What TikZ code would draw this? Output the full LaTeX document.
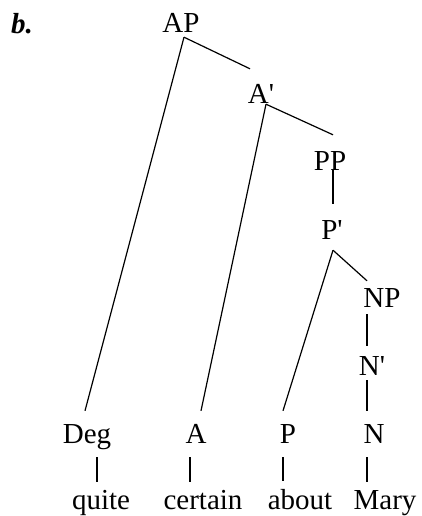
\documentclass[tikz,border=0pt]{standalone}
\usepackage{fontspec}
\setmainfont{Liberation Serif}
\usetikzlibrary{positioning}
\begin{document}
\begin{tikzpicture}[x=1pt,y=-1pt]
\tikzstyle{every node}+=[inner sep=0pt,font=\fontsize{29}{33}\selectfont]
\tikzstyle{cat}=[anchor=base,text height=19pt,text depth=0pt]
\tikzstyle{branch}=[black,line width=1.2pt]
\useasboundingbox (0,0) rectangle (421,516);
\node [anchor=base] (lbl) at (22,34) {\textbf{\textit{b.}}};
% phrase level
\node [cat] (AP) at (181,33) {AP};
\node [cat] (Abar) at (261,103) {A\textquotesingle};
\node [cat] (PP) at (330,170) {PP};
\node [cat] (Pbar) at (332,239) {P\textquotesingle};
\node [cat] (NP) at (382,307) {NP};
\node [cat] (Nbar) at (372,375) {N\textquotesingle};
% heads
\node [cat] (Deg) at (87,443) {Deg};
\node [cat] (A) at (196,443) {A};
\node [cat] (P) at (288,443) {P};
\node [cat] (N) at (374,443) {N};
% words
\node [anchor=base] (quite) at (101,509) {quite};
\node [anchor=base] (certain) at (203,509) {certain};
\node [anchor=base] (about) at (300,509) {about};
\node [anchor=base] (Mary) at (385,509) {Mary};
% branches
\draw [branch] ([xshift=3pt,yshift=-4pt]AP.south) -- ([xshift=-2pt,yshift=13pt]Deg.north);
\draw [branch] ([xshift=3pt,yshift=-4pt]AP.south) -- ([xshift=-11pt,yshift=15pt]Abar.north);
\draw [branch] ([xshift=5pt,yshift=-1pt]Abar.south) -- ([xshift=5pt,yshift=13pt]A.north);
\draw [branch] ([xshift=5pt,yshift=-1pt]Abar.south) -- ([xshift=3pt,yshift=16pt]PP.north);
\draw [branch] ([xshift=3pt]PP.south) -- ([xshift=1pt,yshift=16pt]Pbar.north);
\draw [branch] ([xshift=1pt,yshift=-11pt]Pbar.south) -- ([xshift=-5pt,yshift=13pt]P.north);
\draw [branch] ([xshift=1pt,yshift=-11pt]Pbar.south) -- ([xshift=-15pt,yshift=7pt]NP.north);
\draw [branch] ([xshift=-15pt,yshift=-7pt]NP.south) -- ([xshift=-5pt,yshift=10pt]Nbar.north);
\draw [branch] ([xshift=-5pt,yshift=-5pt]Nbar.south) -- ([xshift=-7pt,yshift=13pt]N.north);
\draw [branch] ([xshift=10pt,yshift=-14pt]Deg.south) -- ([xshift=-4pt,yshift=8pt]quite.north);
\draw [branch] ([xshift=-6pt,yshift=-14pt]A.south) -- ([xshift=-13pt,yshift=8pt]certain.north);
\draw [branch] ([xshift=-5pt,yshift=-14pt]P.south) -- ([xshift=-17pt,yshift=8pt]about.north);
\draw [branch] ([xshift=-7pt,yshift=-14pt]N.south) -- ([xshift=-18pt,yshift=8pt]Mary.north);
\end{tikzpicture}
\end{document}
